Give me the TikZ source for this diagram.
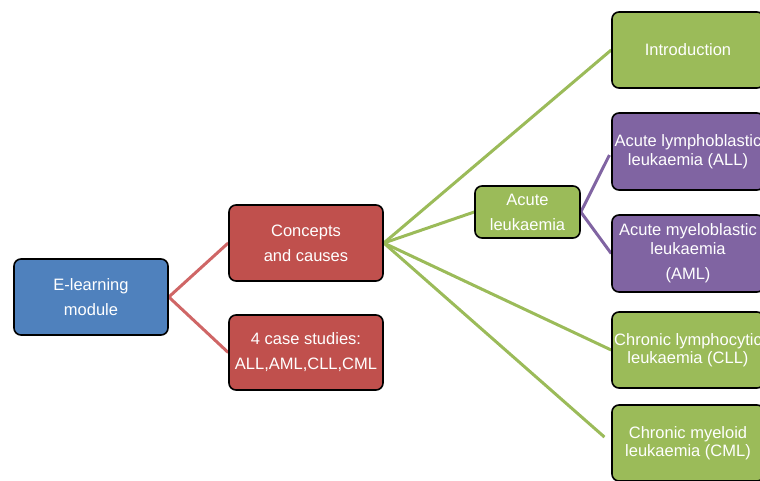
\documentclass[tikz,border=0pt]{standalone}
\usepackage{fontspec}
\setmainfont{Liberation Sans}
\usetikzlibrary{backgrounds}
\definecolor{bxblue}{HTML}{4F81BD}
\definecolor{bxred}{HTML}{C0504D}
\definecolor{bxgreen}{HTML}{9BBB59}
\definecolor{bxpurple}{HTML}{8064A2}
\definecolor{lnred}{HTML}{CF6666}
\definecolor{lngreen}{HTML}{9BBB59}
\definecolor{lnpurple}{HTML}{8064A2}
\tikzset{
  box/.style={draw=black, line width=1.6pt, rounded corners=7pt, text=white,
    align=center, inner sep=0pt, font=\fontsize{16.5}{25}\selectfont},
  rbox/.style={box, minimum width=152pt, minimum height=76pt, font=\fontsize{16.5}{18.5}\selectfont},
  conn/.style={line width=3pt},
}
\begin{document}
\begin{tikzpicture}[x=1pt,y=-1pt]
\useasboundingbox (0,0) rectangle (760,480);
\clip (0,0) rectangle (760,480);
\node[box, fill=bxblue, minimum width=154pt, minimum height=76pt] (el) at (91,297) {E-learning\\module};
\node[box, fill=bxred, minimum width=154pt, minimum height=76pt] (cc) at (306,243) {Concepts\\and causes};
\node[box, fill=bxred, minimum width=154pt, minimum height=75pt] (cs) at (306,352.5) {4 case studies:\\ALL,AML,CLL,CML};
\node[box, fill=bxgreen, minimum width=105pt, minimum height=52pt] (al) at (527.5,212) {Acute\\leukaemia};
\node[rbox, fill=bxgreen] (intro) at (688,50) {Introduction};
\node[rbox, fill=bxpurple, minimum height=77pt] (all) at (688,151.5) {Acute lymphoblastic\\leukaemia (ALL)};
\node[rbox, fill=bxpurple, minimum height=77pt] (aml) at (688,253.5) {Acute myeloblastic\\leukaemia\\[7pt](AML)};
\node[rbox, fill=bxgreen] (cll) at (688,350) {Chronic lymphocytic\\leukaemia (CLL)};
\node[rbox, fill=bxgreen] (cml) at (688,443) {Chronic myeloid\\leukaemia (CML)};
\begin{pgfonlayer}{background}
\draw[conn, lnred] (el.east) -- (cc.west);
\draw[conn, lnred] (el.east) -- (cs.west);
\draw[conn, lngreen] (cc.east) -- (intro.west);
\draw[conn, lngreen] (cc.east) -- (al.west);
\draw[conn, lngreen] (cc.east) -- (cll.west);
\draw[conn, lngreen, shorten >=9pt] (cc.east) -- (cml.west);
\draw[conn, lnpurple, shorten >=4pt] (al.east) -- (all.west);
\draw[conn, lnpurple] (al.east) -- (aml.west);
\end{pgfonlayer}
\end{tikzpicture}
\end{document}
